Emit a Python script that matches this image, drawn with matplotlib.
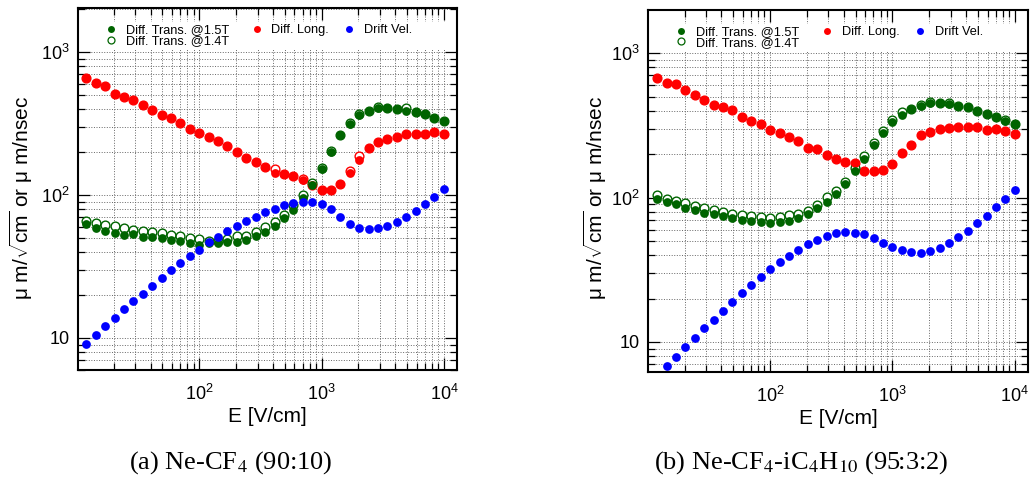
import numpy as np
import matplotlib
matplotlib.use('Agg')
import matplotlib.pyplot as plt
from matplotlib.patches import Rectangle
from matplotlib.lines import Line2D
from matplotlib.ticker import LogLocator, FixedLocator, FuncFormatter, NullFormatter

plt.rcParams['font.family'] = ['Liberation Sans', 'DejaVu Sans']
plt.rcParams['mathtext.fontset'] = 'custom'
plt.rcParams['mathtext.rm'] = 'Liberation Sans'
plt.rcParams['mathtext.it'] = 'Liberation Sans:italic'
plt.rcParams['mathtext.bf'] = 'Liberation Sans:bold'

# electric field points [V/cm]
E = [11.94, 14.25, 17.01, 20.31, 24.24, 28.94, 34.55, 41.25, 49.24, 58.78,
     70.17, 83.77, 100.0, 119.4, 142.5, 170.1, 203.1, 242.4, 289.4, 345.5,
     412.5, 492.4, 587.8, 701.7, 837.7, 1000, 1194, 1425, 1701, 2031,
     2424, 2894, 3455, 4125, 4924, 5878, 7017, 8377, 10000]

# (a) Ne-CF4 (90:10)
trans15_a = [62.8, 58.9, 56.1, 54.6, 52.9, 53.2, 51.0, 50.7, 49.9, 48.6,
             48.0, 46.0, 45.0, 46.2, 46.5, 47.2, 47.2, 48.7, 52.0, 55.5,
             61.1, 68.7, 79.1, 94.8, 117, 153, 200, 262, 316, 362,
             387, 407, 407, 396, 384, 380, 367, 347, 330]
trans14_a = [66.2, 64.1, 62.1, 60.8, 58.5, 57.0, 55.8, 55.0, 53.8, 52.6,
             51.8, 50.4, 49.6, 48.0, 48.0, 49.6, 51.5, 52.0, 55.5, 60.1,
             64.5, 72.4, 85, 100, 121, 155, 203, 264, 318, 371,
             389, 409, 408, 397, 403, 381, 368, 348, 331]
long_a = [659, 608, 576, 511, 486, 460, 427, 390, 363, 348,
          320, 290, 271, 254, 240, 220, 199, 182, 171, 158,
          142, 140, 136, 127, 117, 108, 108, 120, 143, 175,
          214, 236, 247, 255, 265, 265, 269, 274, 265]
long14_a = [659, 608, 576, 511, 486, 460, 427, 390, 363, 348,
            320, 290, 271, 254, 240, 220, 199, 182, 171, 158,
            152, 140, 136, 130, 117, 108, 108, 120, 147, 188,
            214, 236, 247, 255, 265, 265, 269, 274, 265]
vel_a = [9.12, 10.5, 12.2, 13.9, 15.9, 18.0, 20.4, 23.1, 26.2, 29.7,
         33.4, 37.4, 41.3, 47.2, 50.9, 55.8, 61.1, 65.9, 70.7, 75.7,
         80.3, 84.7, 87.5, 89.8, 89.8, 86.5, 79.4, 70.3, 62.8, 58.9,
         57.6, 58.5, 61.1, 65.2, 70.6, 77.8, 86.5, 96.8, 110]

# (b) Ne-CF4-iC4H10 (95:3:2)
trans15_b = [98.4, 93.3, 89.9, 85.3, 81.7, 78.3, 77.5, 74.2, 72.6, 70.3,
             68.9, 67.8, 67.0, 68.0, 68.9, 72.6, 76.5, 84.3, 93.3, 105.5,
             125, 153, 184, 232, 278, 332, 375, 410, 433, 454,
             452, 447, 428, 421, 396, 379, 360, 341, 323]
trans14_b = [104, 98.4, 94.8, 91.4, 88.0, 84.7, 81.7, 79.5, 77.5, 76.2,
             74.6, 73.5, 72.6, 73.8, 76.2, 77.5, 80.7, 88.5, 101, 111,
             129, 160, 194, 238, 287, 344, 394, 412, 435, 456,
             454, 449, 432, 423, 398, 381, 362, 343, 325]
long_b = [674, 623, 612, 553, 514, 475, 438, 426, 404, 361,
          337, 325, 295, 281, 261, 245, 221, 216, 198, 186,
          176, 173, 153, 153, 156, 171, 204, 230, 270, 286,
          297, 301, 310, 308, 306, 294, 300, 290, 275]
long14_b = long_b
vel_b = [np.nan, 6.78, 7.87, 9.18, 10.7, 12.4, 14.3, 16.5, 18.9, 21.7,
         24.8, 28.2, 31.8, 35.8, 39.6, 43.6, 47.5, 51.2, 54.6, 56.6,
         57.6, 57.2, 55.5, 52.3, 48.5, 45.3, 43.0, 41.8, 41.6, 42.7,
         44.8, 48.3, 52.9, 58.8, 66.4, 74.6, 85.7, 98.0, 113]

GREEN = '#006400'
RED = '#ff0000'
BLUE = '#0000ff'
MS = 6.3


def pow_fmt(v, pos):
    n = int(round(np.log10(v)))
    if n == 1:
        return '10'
    return r'$10^{%d}$' % n


def draw(ax, xlim, ylim, t15, t14, lng, lng14, vel):
    ax.set_xscale('log')
    ax.set_yscale('log')
    ax.set_axisbelow(True)

    ax.plot(E, lng14, 'o', ms=MS, mfc='white', mec=RED, mew=1.0, zorder=2)
    ax.plot(E, t14, 'o', ms=MS, mfc='white', mec=GREEN, mew=1.0, zorder=2)
    ax.plot(E, lng, 'o', ms=MS, color=RED, mec='none', zorder=3)
    ax.plot(E, t15, 'o', ms=MS, color=GREEN, mec='none', zorder=3)
    ax.plot(E, vel, 'o', ms=MS, color=BLUE, mec='none', zorder=3)

    ax.set_xlim(*xlim)
    ax.set_ylim(*ylim)

    ax.xaxis.set_major_locator(FixedLocator([100, 1000, 10000]))
    ax.yaxis.set_major_locator(FixedLocator([10, 100, 1000]))
    ax.xaxis.set_minor_locator(LogLocator(base=10, subs=np.arange(2, 10)))
    ax.yaxis.set_minor_locator(LogLocator(base=10, subs=np.arange(2, 10)))
    ax.xaxis.set_major_formatter(FuncFormatter(pow_fmt))
    ax.yaxis.set_major_formatter(FuncFormatter(pow_fmt))
    ax.xaxis.set_minor_formatter(NullFormatter())
    ax.yaxis.set_minor_formatter(NullFormatter())

    ax.tick_params(which='both', direction='in', top=True, right=True,
                   width=0.9, labelsize=13, colors='black')
    ax.tick_params(which='major', length=8.5, pad=6)
    ax.tick_params(which='minor', length=5)
    ax.tick_params(axis='x', which='major', pad=10)
    ax.grid(True, which='both', ls=':', lw=0.7, color='0.4')
    for s in ax.spines.values():
        s.set_linewidth(1.5)

    # blank strip behind the legend
    ax.add_patch(Rectangle((0, 0.887), 1, 0.075, transform=ax.transAxes,
                           fc='white', ec='none', zorder=1))

    kw = dict(frameon=False, fontsize=9.2, handlelength=0.6, handletextpad=0.85,
              borderaxespad=0, borderpad=0, loc='upper left')
    h_green = [
        Line2D([], [], ls='none', marker='o', ms=5, color=GREEN, mec='none'),
        Line2D([], [], ls='none', marker='o', ms=5, mfc='white', mec=GREEN, mew=0.9),
    ]
    leg1 = ax.legend(h_green, ['Diff. Trans. @1.5T', 'Diff. Trans. @1.4T'],
                     bbox_to_anchor=(0.078, 0.955), labelspacing=-0.1, **kw)
    leg1.set_zorder(4)
    ax.add_artist(leg1)
    h_rb = [
        Line2D([], [], ls='none', marker='o', ms=5, color=RED, mec='none'),
        Line2D([], [], ls='none', marker='o', ms=5, color=BLUE, mec='none'),
    ]
    leg2 = ax.legend(h_rb, ['Diff. Long.', 'Drift Vel.'], ncol=2,
                     bbox_to_anchor=(0.461, 0.955), columnspacing=1.3, **kw)
    leg2.set_zorder(4)


fig = plt.figure(figsize=(10.3, 4.78), dpi=100)
ax1 = fig.add_axes([0.0757, 0.2259, 0.368, 0.7574])
ax2 = fig.add_axes([0.6291, 0.2218, 0.3689, 0.7574])

draw(ax1, (10.2, 12800), (5.97, 2030), trans15_a, trans14_a, long_a, long14_a, vel_a)
draw(ax2, (10.05, 12800), (6.2, 1990), trans15_b, trans14_b, long_b, long14_b, vel_b)

ylab = u'\u03bc m/$\\sqrt{\\mathrm{cm}}$ or \u03bc m/nsec'
for x in [21 / 1030, 595 / 1030]:
    fig.text(x, 0.586, ylab, rotation=90, ha='center', va='center', fontsize=15)

fig.text(267 / 1030, 1 - 417 / 478, 'E [V/cm]', ha='center', va='center', fontsize=15)
fig.text(838 / 1030, 1 - 419 / 478, 'E [V/cm]', ha='center', va='center', fontsize=15)

fig.text(231 / 1030, 1 - 463 / 478, r'(a) Ne-CF$_4$ (90:10)', ha='center', va='center',
         fontsize=19, family='Liberation Serif', math_fontfamily='stix')
fig.text(801 / 1030, 1 - 463 / 478, r'(b) Ne-CF$_4$-iC$_4$H$_{10}$ (95:3:2)', ha='center',
         va='center', fontsize=19, family='Liberation Serif', math_fontfamily='stix')

fig.savefig('out.png', dpi=100)
